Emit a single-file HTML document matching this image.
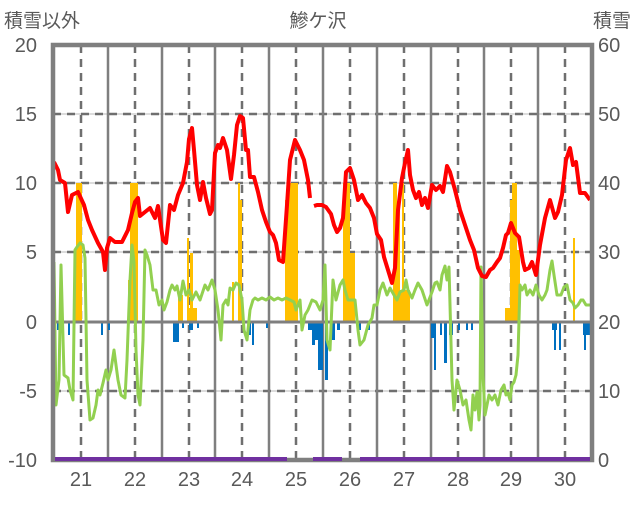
<!DOCTYPE html>
<html><head><meta charset="utf-8"><style>
body{margin:0;background:#fff;}
svg text{font-family:"Liberation Sans","Noto Sans CJK JP",sans-serif;fill:#595959;}
</style></head><body>
<svg width="636" height="501" viewBox="0 0 636 501" xmlns="http://www.w3.org/2000/svg">
<rect width="636" height="501" fill="#fff"/>
<g stroke="#d0d0d0" stroke-width="1.5">
<line x1="53" y1="114" x2="592" y2="114"/><line x1="53" y1="183" x2="592" y2="183"/><line x1="53" y1="252" x2="592" y2="252"/><line x1="53" y1="391" x2="592" y2="391"/>
</g>
<g stroke="#6f6f6f" stroke-width="2.5" stroke-dasharray="8,6">
<line x1="53" y1="114" x2="592" y2="114"/><line x1="53" y1="183" x2="592" y2="183"/><line x1="53" y1="252" x2="592" y2="252"/><line x1="53" y1="391" x2="592" y2="391"/>
<line x1="81" y1="45" x2="81" y2="460"/><line x1="135" y1="45" x2="135" y2="460"/><line x1="189" y1="45" x2="189" y2="460"/><line x1="242" y1="45" x2="242" y2="460"/><line x1="296" y1="45" x2="296" y2="460"/><line x1="350" y1="45" x2="350" y2="460"/><line x1="404" y1="45" x2="404" y2="460"/><line x1="458" y1="45" x2="458" y2="460"/><line x1="511" y1="45" x2="511" y2="460"/><line x1="565" y1="45" x2="565" y2="460"/>
</g>
<g stroke="#7f7f7f" stroke-width="2.5">
<line x1="108" y1="45" x2="108" y2="460"/><line x1="162" y1="45" x2="162" y2="460"/><line x1="215" y1="45" x2="215" y2="460"/><line x1="269" y1="45" x2="269" y2="460"/><line x1="323" y1="45" x2="323" y2="460"/><line x1="377" y1="45" x2="377" y2="460"/><line x1="431" y1="45" x2="431" y2="460"/><line x1="484" y1="45" x2="484" y2="460"/><line x1="538" y1="45" x2="538" y2="460"/>
</g>
<g fill="#ffc000">
<rect x="74" y="265" width="2" height="57"/><rect x="76" y="183" width="6" height="139"/>
<rect x="128" y="280" width="2" height="42"/><rect x="130" y="183" width="8" height="139"/>
<rect x="178" y="295" width="5" height="27"/><rect x="187" y="238" width="2" height="84"/><rect x="190" y="253" width="3" height="69"/><rect x="189" y="308" width="8" height="14"/>
<rect x="232" y="282" width="2" height="40"/><rect x="238" y="183" width="2" height="139"/><rect x="240" y="200" width="2" height="122"/>
<rect x="285" y="200" width="4" height="122"/><rect x="289" y="183" width="9" height="139"/>
<rect x="343" y="183" width="7" height="139"/><rect x="350" y="253" width="5" height="69"/>
<rect x="393" y="183" width="4" height="139"/><rect x="397" y="210" width="3" height="112"/><rect x="402" y="183" width="2" height="139"/><rect x="400" y="290" width="10" height="32"/>
<rect x="505" y="308" width="5" height="14"/><rect x="510" y="200" width="2" height="122"/><rect x="512" y="183" width="5" height="139"/><rect x="517" y="250" width="3" height="72"/>
<rect x="573" y="238" width="2" height="84"/>
</g>
<g fill="#0070c0">
<rect x="54" y="322" width="2" height="83"/><rect x="57" y="322" width="2" height="8"/><rect x="62" y="322" width="2" height="13"/><rect x="68" y="322" width="2" height="13"/><rect x="101" y="322" width="2" height="13"/><rect x="108" y="322" width="2" height="8"/>
<rect x="173" y="322" width="6" height="20"/><rect x="182" y="322" width="2" height="6"/><rect x="189" y="322" width="4" height="8"/><rect x="197" y="322" width="2" height="6"/>
<rect x="249" y="322" width="2" height="13"/><rect x="252" y="322" width="2" height="23"/><rect x="266" y="322" width="2" height="6"/>
<rect x="308" y="322" width="4" height="8"/><rect x="312" y="322" width="3" height="23"/><rect x="315" y="322" width="3" height="18"/><rect x="318" y="322" width="5" height="48"/><rect x="325" y="322" width="3" height="58"/><rect x="330" y="322" width="5" height="18"/><rect x="337" y="322" width="3" height="8"/>
<rect x="359" y="322" width="2" height="8"/><rect x="368" y="322" width="2" height="8"/>
<rect x="431" y="322" width="4" height="16"/><rect x="434" y="322" width="2" height="48"/><rect x="440" y="322" width="2" height="13"/><rect x="444" y="322" width="3" height="41"/><rect x="449" y="322" width="4" height="13"/><rect x="458" y="322" width="2" height="8"/><rect x="466" y="322" width="2" height="8"/><rect x="471" y="322" width="2" height="8"/>
<rect x="552" y="322" width="5" height="8"/><rect x="554" y="322" width="2" height="28"/><rect x="559" y="322" width="2" height="28"/><rect x="583" y="322" width="7" height="13"/><rect x="584" y="322" width="2" height="28"/>
</g>
<line x1="53" y1="322" x2="592" y2="322" stroke="#7f7f7f" stroke-width="3"/>
<polyline fill="none" stroke="#92d050" stroke-width="3" stroke-linejoin="round" points="54,262 56,405 59,380 61,265 64,375 68,378 70,390 73,400 75,250 77,247 80,243 83,245 85,258 87,380 90,420 93,418 96,405 98,390 100,395 103,383 106,370 108,380 111,370 114,350 116,365 118,380 121,395 125,398 127,360 130,280 132,245 134,262 136,350 138,395 140,405 143,340 145,250 147,255 150,265 153,290 156,290 159,305 162,300 164,310 167,302 170,290 172,285 175,290 177,286 180,300 183,281 186,295 189,290 192,300 196,292 200,300 205,285 208,290 212,280 215,290 218,310 220,330 221,340 223,305 226,300 228,305 230,288 233,290 236,283 239,285 242,300 244,330 247,340 250,310 253,300 255,298 258,300 262,298 266,300 270,297 274,300 278,298 282,300 286,298 290,300 294,302 296,310 300,300 302,330 305,315 308,310 312,300 316,302 320,310 323,300 325,265 327,340 330,350 333,280 336,300 340,285 343,280 345,290 348,300 352,300 355,300 358,330 360,345 364,340 368,325 372,318 374,305 377,305 380,290 383,283 387,295 390,288 394,295 397,300 400,292 404,290 406,280 408,290 412,298 415,290 418,283 422,290 427,305 432,292 435,283 437,282 440,290 442,275 445,266 447,280 449,267 452,380 454,410 457,380 460,390 463,405 466,400 469,420 471,430 473,395 475,410 477,392 479,420 480,405 481,267 483,375 485,415 487,405 489,395 492,400 495,395 498,405 501,390 504,385 506,395 508,393 510,400 512,385 514,382 516,375 518,355 520,285 522,290 525,285 527,295 530,290 533,295 536,285 539,295 542,300 545,295 547,290 550,270 552,261 554,275 557,295 561,295 564,287 567,285 570,300 573,303 575,308 578,305 581,300 583,300 586,305 590,305"/>
<g fill="none" stroke="#ff0000" stroke-width="4" stroke-linejoin="round">
<polyline points="54,162 58,170 60,180 65,183 68,212 72,195 78,192 84,205 88,220 92,230 98,243 103,252 105,270 107,248 110,238 115,242 122,242 128,230 132,213 135,202 138,198 140,216 145,212 150,208 155,218 158,206 163,240 166,243 170,205 174,210 178,195 183,183 187,162 189,139 192,128 194,150 197,185 200,200 203,182 206,198 210,214 212,210 215,153 218,145 220,148 223,138 227,150 231,179 234,155 237,125 240,116 243,118 246,150 248,150 250,177 254,177 258,192 262,210 266,222 270,232 273,235 276,243 279,260 283,262 287,205 290,160 295,140 300,150 304,160 308,180 310,198"/>
<polyline points="314,206 317,205 322,205 326,207 331,214 334,225 337,232 340,228 343,218 346,172 350,168 354,180 358,200 362,195 366,203 370,208 374,218 377,234 381,240 384,257 388,270 392,283 395,268 398,210 402,178 405,163 408,150 410,175 413,190 416,198 419,192 422,205 425,198 428,208 432,185 436,190 440,186 443,192 447,166 450,172 455,190 460,210 466,228 470,240 474,250 478,268 482,276 486,277 490,270 493,268 497,262 500,258 503,248 506,235 508,233 511,223 515,233 519,237 523,262 525,270 529,268 532,262 536,275 540,245 545,218 550,200 555,218 558,212 562,195 566,160 570,148 573,165 576,162 580,193 585,193 590,200"/>
</g>
<rect x="53" y="45" width="539" height="415" fill="none" stroke="#7f7f7f" stroke-width="4.5"/>
<g stroke="#7030a0" stroke-width="4"><line x1="55" y1="459" x2="287" y2="459"/><line x1="313" y1="459" x2="342" y2="459"/><line x1="360" y1="459" x2="590" y2="459"/></g>
<g font-size="20" text-anchor="end">
<text x="37" y="52">20</text><text x="37" y="121">15</text><text x="37" y="190">10</text><text x="37" y="259">5</text><text x="37" y="329">0</text><text x="37" y="398">-5</text><text x="37" y="467">-10</text>
</g>
<g font-size="20" text-anchor="start">
<text x="598" y="52">60</text><text x="598" y="121">50</text><text x="598" y="190">40</text><text x="598" y="259">30</text><text x="598" y="329">20</text><text x="598" y="398">10</text><text x="598" y="467">0</text>
</g>
<g font-size="20" text-anchor="middle">
<text x="81" y="486">21</text><text x="135" y="486">22</text><text x="189" y="486">23</text><text x="242" y="486">24</text><text x="296" y="486">25</text><text x="350" y="486">26</text><text x="404" y="486">27</text><text x="458" y="486">28</text><text x="511" y="486">29</text><text x="565" y="486">30</text>
</g>
<text x="4" y="27" font-size="19">積雪以外</text>
<text x="318" y="27" font-size="19" text-anchor="middle">鰺ケ沢</text>
<text x="631" y="27" font-size="19" text-anchor="end">積雪</text>
</svg>
</body></html>
